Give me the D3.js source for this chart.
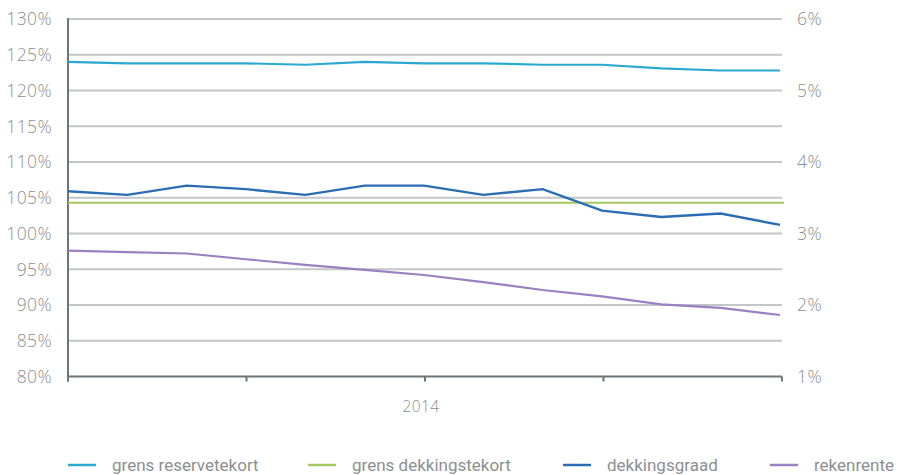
<!DOCTYPE html>
<html>
<head>
<meta charset="utf-8">
<script src="https://cdn.jsdelivr.net/npm/d3@7"></script>
<style>
  html, body { margin: 0; padding: 0; background: #fff; }
  svg { display: block; }
  .tick-label { font-family: "Open Sans", "Noto Sans", sans-serif; fill: #8c8f92; font-size: 17.5px; font-weight: 300; letter-spacing: 0.4px; }
  .legend-label { font-family: Roboto, "Open Sans", sans-serif; fill: #8c8f92; font-size: 17px; font-weight: 400; }
</style>
</head>
<body>
<svg id="chart" width="905" height="475"></svg>
<script>
// ---- data ----
const months = ["dec 2013","jan","feb","mrt","apr","mei","jun","jul","aug","sep","okt","nov","dec"];
const leftTicks = [80, 85, 90, 95, 100, 105, 110, 115, 120, 125, 130];
const rightTicks = [1, 2, 3, 4, 5, 6];
const xTickLabels = ["", "", "2014", "", ""];
const grensReservetekort = [124.0, 123.8, 123.8, 123.8, 123.6, 124.0, 123.8, 123.8, 123.6, 123.6, 123.1, 122.8, 122.8];
const grensDekkingstekort = [104.3, 104.3, 104.3, 104.3, 104.3, 104.3, 104.3, 104.3, 104.3, 104.3, 104.3, 104.3, 104.3];
const dekkingsgraad = [105.9, 105.4, 106.7, 106.2, 105.4, 106.7, 106.7, 105.4, 106.2, 103.2, 102.3, 102.8, 101.2];
const rekenrente = [2.76, 2.74, 2.72, 2.64, 2.56, 2.49, 2.42, 2.32, 2.21, 2.12, 2.01, 1.96, 1.86];
const seriesNames = ["grens reservetekort", "grens dekkingstekort", "dekkingsgraad", "rekenrente"];
const seriesColors = ["#2aa8d2", "#a6c863", "#2b6db3", "#9a80c2"];

// ---- layout ----
const svg = d3.select("#chart");
const pLeft = 68, pRight = 782, pTop = 19, pBottom = 376.5;

const x = d3.scaleLinear().domain([0, months.length - 1]).range([pLeft, pRight - 2]);
const xAxisScale = d3.scaleLinear().domain([0, 4]).range([pLeft, pRight]);
const yL = d3.scaleLinear().domain([80, 130]).range([pBottom, pTop]);
const yR = d3.scaleLinear().domain([1, 6]).range([pBottom, pTop]);

// gridlines
svg.append("g").selectAll("line").data(leftTicks.filter(t => t > 80)).join("line")
  .attr("x1", pLeft).attr("x2", pRight)
  .attr("y1", d => yL(d)).attr("y2", d => yL(d))
  .attr("stroke", "#c3c5c7").attr("stroke-width", 2);

// left tick labels
svg.append("g").selectAll("text").data(leftTicks).join("text")
  .attr("class", "tick-label")
  .attr("x", 52).attr("y", d => yL(d)).attr("dy", "0.36em")
  .attr("text-anchor", "end")
  .text(d => d + "%");

// right tick labels
svg.append("g").selectAll("text").data(rightTicks).join("text")
  .attr("class", "tick-label")
  .attr("x", 797).attr("y", d => yR(d)).attr("dy", "0.36em")
  .attr("text-anchor", "start")
  .text(d => d + "%");

// axes lines
svg.append("line").attr("x1", pLeft).attr("x2", pLeft).attr("y1", pTop - 1).attr("y2", pBottom + 5)
  .attr("stroke", "#6f7478").attr("stroke-width", 2);
svg.append("line").attr("x1", pLeft).attr("x2", pRight).attr("y1", pBottom).attr("y2", pBottom)
  .attr("stroke", "#6f7478").attr("stroke-width", 2);
svg.append("g").selectAll("line").data(d3.range(5)).join("line")
  .attr("x1", d => xAxisScale(d)).attr("x2", d => xAxisScale(d))
  .attr("y1", pBottom).attr("y2", pBottom + 5)
  .attr("stroke", "#6f7478").attr("stroke-width", 2);
svg.append("g").selectAll("text").data(xTickLabels).join("text")
  .attr("class", "tick-label")
  .attr("x", (d, i) => xAxisScale(i) - 4).attr("y", 406).attr("dy", "0.36em")
  .attr("text-anchor", "middle").style("font-size", "15.5px")
  .text(d => d);

// lines
const lineL = d3.line().x((d, i) => x(i)).y(d => yL(d));
const lineR = d3.line().x((d, i) => x(i)).y(d => yR(d));

svg.append("path").datum(grensDekkingstekort)
  .attr("d", d3.line().x((d, i) => i === 0 ? pLeft : (i === grensDekkingstekort.length - 1 ? pRight + 2 : x(i))).y(d => yL(d)))
  .attr("fill", "none").attr("stroke", seriesColors[1]).attr("stroke-width", 2.2);
svg.append("path").datum(grensReservetekort).attr("d", lineL)
  .attr("fill", "none").attr("stroke", seriesColors[0]).attr("stroke-width", 2.2);
svg.append("path").datum(rekenrente).attr("d", lineR)
  .attr("fill", "none").attr("stroke", seriesColors[3]).attr("stroke-width", 2.2);
svg.append("path").datum(dekkingsgraad).attr("d", lineL)
  .attr("fill", "none").attr("stroke", seriesColors[2]).attr("stroke-width", 2.4);

// legend
const legendX = [68, 308, 563, 770];
const lg = svg.append("g").selectAll("g").data(seriesNames).join("g")
  .attr("transform", (d, i) => `translate(${legendX[i]},465)`);
lg.append("line").attr("x1", 0).attr("x2", 28).attr("y1", 0).attr("y2", 0)
  .attr("stroke", (d, i) => seriesColors[i]).attr("stroke-width", 2.5);
lg.append("text").attr("class", "legend-label").attr("x", 44).attr("y", 0).attr("dy", "0.36em")
  .text(d => d);
</script>
</body>
</html>
